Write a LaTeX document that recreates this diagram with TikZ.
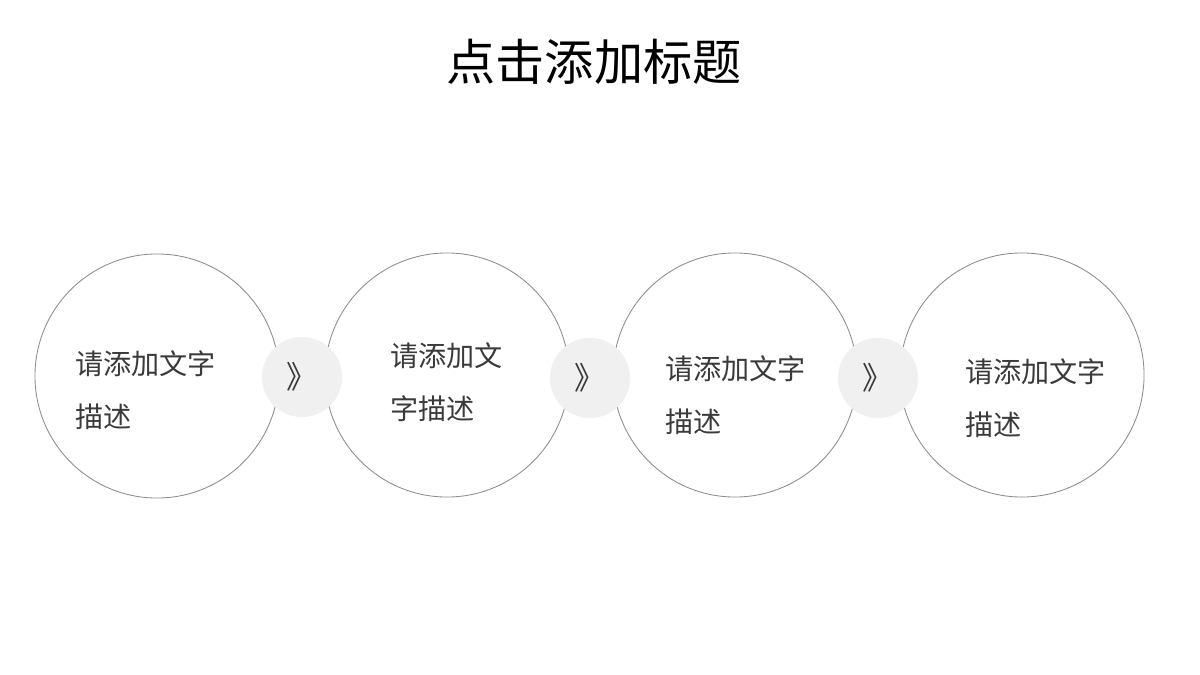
\documentclass[tikz,border=0pt]{standalone}
\usepackage{fontspec}
\newfontfamily\cjk{Noto Sans CJK SC}
\definecolor{ringgray}{HTML}{8C8C8C}
\definecolor{dotgray}{HTML}{F0F0F0}
\definecolor{txtgray}{HTML}{3A3A3A}
\tikzset{
  ring/.style={circle,draw=ringgray,line width=0.6pt,fill=white,minimum size=6.1cm,inner sep=0pt},
  dot/.style={circle,fill=dotgray,minimum size=2cm,inner sep=0pt,text=txtgray,font=\cjk\fontsize{22}{22}\selectfont},
  desc/.style={anchor=north west,align=left,text=txtgray,font=\cjk\fontsize{20}{38}\selectfont,inner sep=0pt}
}
\begin{document}
\begin{tikzpicture}[x=0.025cm,y=-0.025cm]
        \useasboundingbox[fill=white] (0,0) rectangle (1200,675);

        % Titel
        \node[font=\cjk\fontsize{35}{35}\selectfont,text=black] (title) at (594,62) {点击添加标题};

        % Kreise
        \node[ring] (c1) at (157,376) {};
        \node[ring] (c2) at (447,375) {};
        \node[ring] (c3) at (735,375) {};
        \node[ring] (c4) at (1022,375) {};

        % Pfeile
        \node[dot] (p1) at (302,377) {》};
        \node[dot] (p2) at (590,378) {》};
        \node[dot] (p3) at (878,378) {》};

        % Texte
        \node[desc] (t1) at (75,350) {请添加文字\\描述};
        \node[desc] (t2) at (390,342) {请添加文\\字描述};
        \node[desc] (t3) at (665,355) {请添加文字\\描述};
        \node[desc] (t4) at (965,358) {请添加文字\\描述};
    \end{tikzpicture}
\end{document}
